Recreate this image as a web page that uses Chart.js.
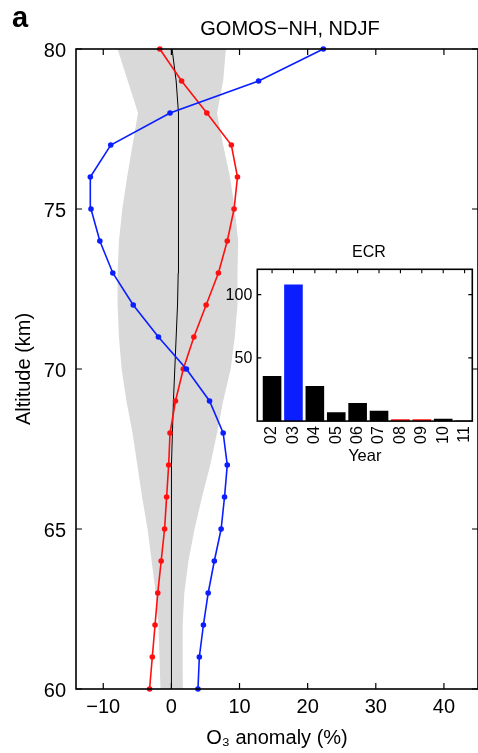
<!DOCTYPE html>
<html>
<head>
<meta charset="utf-8">
<script src="https://cdn.jsdelivr.net/npm/chart.js@4/dist/chart.umd.min.js"></script>
<style>
  html, body { margin: 0; padding: 0; background: #fff; }
  #wrap { position: relative; width: 478px; height: 753px; overflow: hidden; }
  #main { position: absolute; left: 0; top: 0; }
  #inset { position: absolute; left: 200px; top: 236px; }
</style>
</head>
<body>
<div id="wrap">
  <canvas id="main" width="478" height="753"></canvas>
  <canvas id="inset" width="278" height="244"></canvas>
</div>
<script>
// ---------- data ----------
const altitudes = [60, 61, 62, 63, 64, 65, 66, 67, 68, 69, 70, 71, 72, 73, 74, 75, 76, 77, 78, 79, 80];
// blue profile (year 03)
const anomaly2003 = [3.9, 4.1, 4.7, 5.4, 6.3, 7.3, 7.8, 8.2, 7.6, 5.6, 2.2, -1.9, -5.6, -8.6, -10.5, -11.8, -11.9, -8.9, -0.2, 12.8, 22.3];
// red profile (years 08, 09)
const anomaly2008_09 = [-3.2, -2.8, -2.4, -2.0, -1.5, -1.0, -0.7, -0.4, -0.2, 0.6, 1.75, 3.3, 5.1, 6.9, 8.2, 9.2, 9.7, 8.8, 5.2, 1.5, -1.7];
// thin black mean profile
const meanAnomaly = [0, 0, 0, 0, 0, 0, 0, 0.05, 0.15, 0.3, 0.5, 0.7, 0.9, 1.0, 1.0, 1.0, 1.05, 1.1, 1.05, 0.7, 0.1];
// grey variability envelope
const bandLow  = [-1.6, -1.75, -1.9, -2.3, -2.9, -3.5, -4.3, -5.0, -5.7, -6.6, -7.3, -7.7, -7.9, -7.9, -7.7, -7.2, -6.5, -5.7, -4.9, -6.4, -7.9];
const bandHigh = [1.7, 1.65, 1.65, 1.9, 2.5, 3.4, 4.5, 5.7, 6.7, 7.6, 8.7, 9.3, 9.7, 9.7, 9.8, 9.3, 8.6, 7.6, 6.7, 7.6, 8.0];

const xTickValues = [-10, 0, 10, 20, 30, 40];
const yTickValues = [60, 65, 70, 75, 80];

// inset: ECR
const years = ['02', '03', '04', '05', '06', '07', '08', '09', '10', '11'];
const ecrCounts = [35.6, 107.9, 27.7, 6.9, 14.3, 8.2, 1.5, 1.5, 1.9, 0.4];
const ecrTickValues = [50, 100];
const blueYears = ['03'];
const redYears = ['08', '09'];

// ---------- styling ----------
const FAMILY = "'Liberation Sans', Arial, Helvetica, sans-serif";
Chart.defaults.font.family = FAMILY;
Chart.defaults.color = '#000';
const BLUE = '#0a1eff';
const RED = '#ff1010';
const GREY = '#d9d9d9';

const fmt = v => (v < 0 ? '\u2212' + Math.abs(v) : String(v));
const toPts = (xs) => altitudes.map((a, i) => ({ x: xs[i], y: a }));
const noPad = s => { s.paddingLeft = 0; s.paddingRight = 0; s.paddingTop = 0; s.paddingBottom = 0; };

const mainFrame = {
  id: 'mainFrame',
  afterDraw(chart) {
    const { ctx, chartArea: { left, right, top, bottom }, scales: { x, y } } = chart;
    ctx.save();
    ctx.strokeStyle = '#000';
    ctx.lineWidth = 1.6;
    ctx.strokeRect(left, top, right - left, bottom - top);
    ctx.lineWidth = 1.2;
    ctx.beginPath();
    xTickValues.forEach(v => {
      const px = x.getPixelForValue(v);
      ctx.moveTo(px, bottom); ctx.lineTo(px, bottom - 6);
      ctx.moveTo(px, top); ctx.lineTo(px, top + 6);
    });
    yTickValues.forEach(v => {
      const py = y.getPixelForValue(v);
      ctx.moveTo(left, py); ctx.lineTo(left + 6, py);
      ctx.moveTo(right, py); ctx.lineTo(right - 6, py);
    });
    ctx.stroke();
    ctx.fillStyle = '#000';
    ctx.textBaseline = 'alphabetic';
    ctx.font = '20px ' + FAMILY;
    ctx.textAlign = 'center';
    ctx.fillText('GOMOS\u2212NH, NDJF', 290, 35);
    ctx.font = 'bold 29px ' + FAMILY;
    ctx.textAlign = 'left';
    ctx.fillText('a', 12, 27);
    ctx.restore();
  }
};

new Chart(document.getElementById('main'), {
  type: 'line',
  data: {
    datasets: [
      { label: 'envelope low', data: toPts(bandLow), borderWidth: 0, borderColor: GREY, pointRadius: 0,
        backgroundColor: GREY, fill: '+1', order: 10 },
      { label: 'envelope high', data: toPts(bandHigh), borderWidth: 0, borderColor: GREY, pointRadius: 0,
        backgroundColor: GREY, fill: false, order: 10 },
      { label: 'mean', data: toPts(meanAnomaly), borderColor: '#000', borderWidth: 1, pointRadius: 0,
        fill: false, order: 3, clip: false },
      { label: '08/09', data: toPts(anomaly2008_09), borderColor: RED, backgroundColor: RED, borderWidth: 1.6,
        pointRadius: 2.8, pointBorderWidth: 0, pointBackgroundColor: RED, fill: false, order: 2, clip: false },
      { label: '03', data: toPts(anomaly2003), borderColor: BLUE, backgroundColor: BLUE, borderWidth: 1.6,
        pointRadius: 2.8, pointBorderWidth: 0, pointBackgroundColor: BLUE, fill: false, order: 1, clip: false }
    ]
  },
  options: {
    indexAxis: 'y',
    responsive: false,
    animation: false,
    devicePixelRatio: 1,
    layout: { autoPadding: false, padding: { top: 49, left: 0, right: 0, bottom: 0 } },
    plugins: { legend: { display: false }, tooltip: { enabled: false }, title: { display: false } },
    elements: { line: { tension: 0 } },
    scales: {
      x: {
        type: 'linear', position: 'bottom', min: -14, max: 45,
        grid: { display: false, drawTicks: false }, border: { display: false },
        afterBuildTicks: s => { s.ticks = xTickValues.map(v => ({ value: v })); },
        afterFit: s => { s.height = 64; noPad(s); },
        ticks: { font: { size: 20 }, color: '#000', padding: 6, maxRotation: 0, autoSkip: false, callback: v => fmt(v) },
        title: { display: true, text: 'O\u2083 anomaly (%)', color: '#000', font: { size: 20 }, padding: { top: 0, bottom: 3 } }
      },
      y: {
        type: 'linear', position: 'left', min: 60, max: 80,
        grid: { display: false, drawTicks: false }, border: { display: false },
        afterBuildTicks: s => { s.ticks = yTickValues.map(v => ({ value: v })); },
        afterFit: s => { s.width = 76; noPad(s); },
        ticks: { font: { size: 20 }, color: '#000', padding: 10, labelOffset: 2, autoSkip: false, callback: v => String(v) },
        title: { display: true, text: 'Altitude (km)', color: '#000', font: { size: 20 }, padding: { top: 12, bottom: 0 } }
      }
    }
  },
  plugins: [mainFrame]
});

const insetFrame = {
  id: 'insetFrame',
  afterDraw(chart) {
    const { ctx, chartArea: { left, right, top, bottom }, scales: { x, y } } = chart;
    ctx.save();
    ctx.strokeStyle = '#000';
    ctx.lineWidth = 1.6;
    ctx.strokeRect(left, top, right - left, bottom - top);
    ctx.lineWidth = 1.1;
    ctx.beginPath();
    years.forEach((_, i) => {
      const px = x.getPixelForValue(i + 1);
      ctx.moveTo(px, top); ctx.lineTo(px, top + 4);
    });
    ecrTickValues.forEach(v => {
      const py = y.getPixelForValue(v);
      ctx.moveTo(left, py); ctx.lineTo(left + 4, py);
      ctx.moveTo(right, py); ctx.lineTo(right - 4, py);
    });
    ctx.stroke();
    ctx.fillStyle = '#000';
    ctx.font = '16px ' + FAMILY;
    ctx.textAlign = 'center';
    ctx.textBaseline = 'alphabetic';
    ctx.fillText('ECR', 169, 21.3);
    ctx.restore();
  }
};

new Chart(document.getElementById('inset'), {
  type: 'bar',
  data: {
    datasets: [{
      label: 'ECR',
      data: years.map((yr, i) => ({ x: i + 1, y: ecrCounts[i] })),
      backgroundColor: years.map(yr => blueYears.includes(yr) ? BLUE : (redYears.includes(yr) ? RED : '#000')),
      borderWidth: 0,
      barPercentage: 0.87,
      categoryPercentage: 1
    }]
  },
  options: {
    responsive: false,
    animation: false,
    devicePixelRatio: 1,
    layout: { autoPadding: false, padding: { top: 33.3, right: 5.7, left: 0, bottom: 0 } },
    plugins: { legend: { display: false }, tooltip: { enabled: false }, title: { display: false } },
    scales: {
      x: {
        type: 'linear', min: 0.31, max: 10.36, offset: false,
        grid: { display: false, drawTicks: false, offset: false }, border: { display: false },
        afterBuildTicks: s => { s.ticks = years.map((_, i) => ({ value: i + 1 })); },
        afterFit: s => { s.height = 58.9; noPad(s); },
        ticks: { autoSkip: false, minRotation: 90, maxRotation: 90, padding: 5, font: { size: 16 }, color: '#000',
          callback: v => years[Math.round(v) - 1] },
        title: { display: true, text: 'Year', color: '#000', font: { size: 16.5 }, padding: { top: 0, bottom: 14 } }
      },
      y: {
        type: 'linear', min: 0, max: 120,
        grid: { display: false, drawTicks: false }, border: { display: false },
        afterBuildTicks: s => { s.ticks = ecrTickValues.map(v => ({ value: v })); },
        afterFit: s => { s.width = 57.3; noPad(s); },
        ticks: { padding: 5, font: { size: 16 }, color: '#000', labelOffset: 1, callback: v => String(v) }
      }
    }
  },
  plugins: [insetFrame]
});
</script>
</body>
</html>
